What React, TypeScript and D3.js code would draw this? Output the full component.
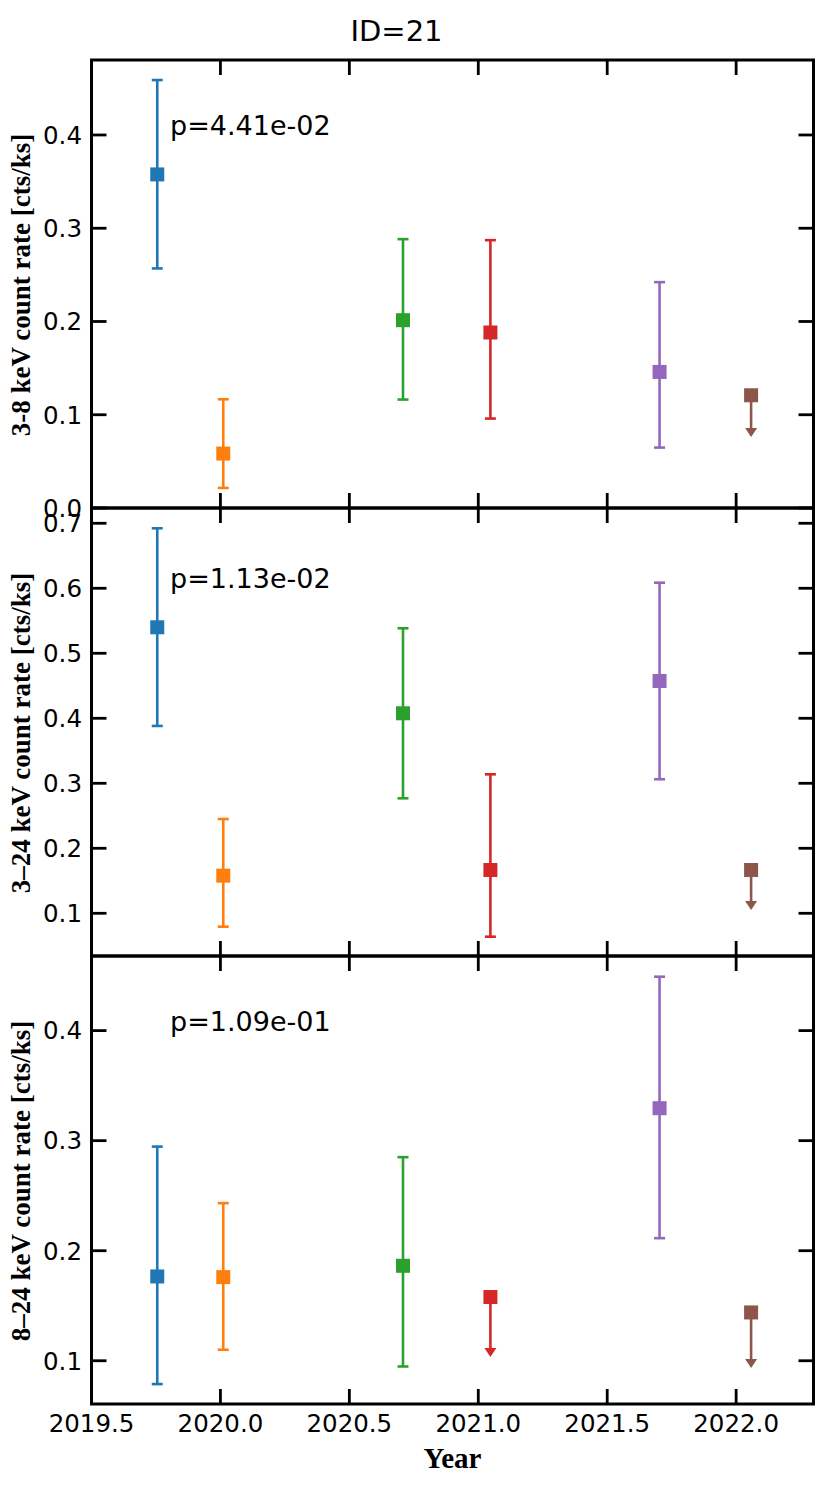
import React from "react";
import * as d3 from "d3";

// ---- data ----
const years = [2019.755, 2020.011, 2020.708, 2021.047, 2021.703, 2022.058];
const colors = ["#1f77b4", "#ff7f0e", "#2ca02c", "#d62728", "#9467bd", "#8c564b"];

// 3-8 keV
const rate38 = [0.3577, 0.0584, 0.2014, 0.1882, 0.1459, 0.1209];
const lo38 = [0.2569, 0.0215, 0.1163, 0.0959, 0.0648, 0.0762];
const hi38: (number | null)[] = [0.4589, 0.1166, 0.2883, 0.2872, 0.2422, null];

// 3-24 keV
const rate324 = [0.5400, 0.1579, 0.4077, 0.1666, 0.4574, 0.1666];
const lo324 = [0.3882, 0.0794, 0.2769, 0.0640, 0.3062, 0.1051];
const hi324: (number | null)[] = [0.6923, 0.2450, 0.5385, 0.3138, 0.6086, null];

// 8-24 keV
const rate824 = [0.1766, 0.1760, 0.1863, 0.1579, 0.3295, 0.1439];
const lo824 = [0.0788, 0.1100, 0.0948, 0.1034, 0.2114, 0.0934];
const hi824: (number | null)[] = [0.2946, 0.2432, 0.2850, null, 0.4490, null];

const pTexts = ["p=4.41e-02", "p=1.13e-02", "p=1.09e-01"];
const pTextPos = [0.4, 0.6, 0.4];
const yLabels = ["3-8 keV count rate [cts/ks]", "3–24 keV count rate [cts/ks]", "8–24 keV count rate [cts/ks]"];
const yDomains: [number, number][] = [[0, 0.4804], [0.0343, 0.7235], [0.0607, 0.4678]];
const yTicks = [[0.0, 0.1, 0.2, 0.3, 0.4], [0.1, 0.2, 0.3, 0.4, 0.5, 0.6, 0.7], [0.1, 0.2, 0.3, 0.4]];
const xTicks = [2019.5, 2020.0, 2020.5, 2021.0, 2021.5, 2022.0];
const xDomain: [number, number] = [2019.5, 2022.3];
const title = "ID=21";
const xLabel = "Year";

const panels = [
  { rate: rate38, lo: lo38, hi: hi38 },
  { rate: rate324, lo: lo324, hi: hi324 },
  { rate: rate824, lo: lo824, hi: hi824 },
];

// ---- layout ----
const W = 830, H = 1495;
const left = 91.5, right = 813.5;
const panelTops = [60, 508, 956];
const panelH = 448;
const tickLen = 15;
const sans = "DejaVu Sans, sans-serif";
const serif = "Liberation Serif, Times New Roman, serif";
const ebW = 2.6;

export default function App() {
  const x = d3.scaleLinear().domain(xDomain).range([left, right]);
  return (
    <svg width={W} height={H} style={{ position: "absolute", left: 0, top: 0, background: "#fff" }}>
      <text x={396.5} y={40.7} fontFamily={sans} fontSize={29} textAnchor="middle">{title}</text>
      {panels.map((p, pi) => {
        const top = panelTops[pi];
        const bottom = top + panelH;
        const y = d3.scaleLinear().domain(yDomains[pi]).range([bottom, top]);
        const fmt = d3.format(".1f");
        return (
          <g key={pi}>
            {/* ticks */}
            {yTicks[pi].map((t, i) => (
              <g key={"yt" + i}>
                <line x1={left} x2={left + tickLen} y1={y(t)} y2={y(t)} stroke="#000" strokeWidth={2.8} />
                <line x1={right} x2={right - tickLen} y1={y(t)} y2={y(t)} stroke="#000" strokeWidth={2.8} />
                <text x={82} y={y(t)} dy="0.36em" textAnchor="end" fontFamily={sans} fontSize={24.5}>{fmt(t)}</text>
              </g>
            ))}
            {xTicks.map((t, i) => (
              <g key={"xt" + i}>
                <line x1={x(t)} x2={x(t)} y1={top} y2={top + tickLen} stroke="#000" strokeWidth={2.8} />
                <line x1={x(t)} x2={x(t)} y1={bottom} y2={bottom - tickLen} stroke="#000" strokeWidth={2.8} />
                {pi === 2 && (
                  <text x={x(t)} y={1432} textAnchor="middle" fontFamily={sans} fontSize={24.5}>{fmt(t)}</text>
                )}
              </g>
            ))}
            {/* data */}
            {years.map((yr, i) => {
              const cx = x(yr);
              const c = colors[i];
              const hi = p.hi[i];
              const isUL = hi === null;
              const cy = y(p.rate[i]);
              const yl = y(p.lo[i]);
              return (
                <g key={"d" + i}>
                  {!isUL ? (
                    <>
                      <line x1={cx} x2={cx} y1={y(hi as number)} y2={yl} stroke={c} strokeWidth={ebW} />
                      <line x1={cx - 5.5} x2={cx + 5.5} y1={y(hi as number)} y2={y(hi as number)} stroke={c} strokeWidth={ebW} />
                      <line x1={cx - 5.5} x2={cx + 5.5} y1={yl} y2={yl} stroke={c} strokeWidth={ebW} />
                    </>
                  ) : (
                    <>
                      <line x1={cx} x2={cx} y1={cy} y2={yl - 7} stroke={c} strokeWidth={ebW} />
                      <path d={`M${cx - 6},${yl - 9} L${cx + 6},${yl - 9} L${cx},${yl} Z`} fill={c} />
                    </>
                  )}
                  <rect x={cx - 7} y={cy - 7} width={14} height={14} fill={c} />
                </g>
              );
            })}
            <text x={170} y={y(pTextPos[pi])} fontFamily={sans} fontSize={27}>{pTexts[pi]}</text>
            <text transform={`translate(29.5, ${top + panelH / 2 + 1}) rotate(-90)`} textAnchor="middle"
              fontFamily={serif} fontWeight="bold" fontSize={27}>{yLabels[pi]}</text>
            <rect x={left} y={top} width={right - left} height={panelH} fill="none" stroke="#000" strokeWidth={3} />
          </g>
        );
      })}
      <text x={(left + right) / 2} y={1468} textAnchor="middle" fontFamily={serif} fontWeight="bold" fontSize={29}>{xLabel}</text>
    </svg>
  );
}
